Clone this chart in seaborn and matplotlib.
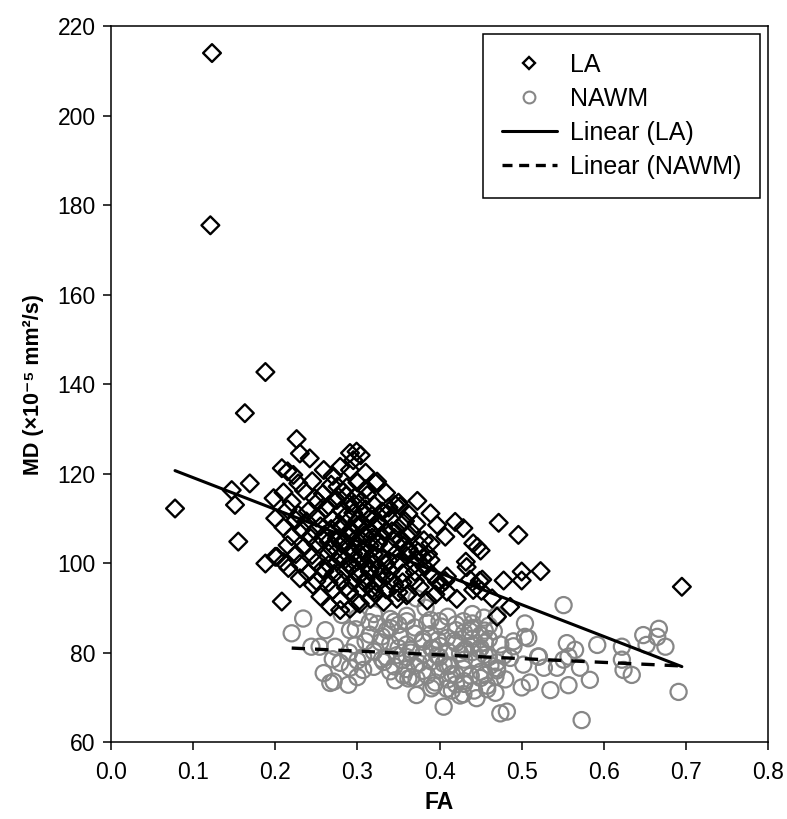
import numpy as np
import seaborn as sns
import matplotlib.pyplot as plt
from matplotlib.lines import Line2D

# LA (lesion area) points, FA vs MD
la_fa = [0.123, 0.121, 0.188, 0.163, 0.226, 0.695, 0.078,
         0.230, 0.242, 0.291, 0.299, 0.304, 0.295,
         0.208, 0.222, 0.215, 0.259, 0.279, 0.291, 0.310, 0.270,
         0.169, 0.228, 0.245, 0.268, 0.300, 0.322, 0.324, 0.287, 0.310,
         0.147, 0.210, 0.235, 0.258, 0.283, 0.312, 0.335, 0.298, 0.248,
         0.198, 0.220, 0.252, 0.275, 0.290, 0.305, 0.320, 0.350, 0.373, 0.265, 0.338,
         0.151, 0.215, 0.240, 0.262, 0.280, 0.295, 0.310, 0.330, 0.352, 0.362, 0.228, 0.318,
         0.200, 0.225, 0.250, 0.270, 0.285, 0.300, 0.315, 0.325, 0.340, 0.358, 0.389, 0.278, 0.305,
         0.210, 0.232, 0.255, 0.268, 0.280, 0.292, 0.300, 0.312, 0.322, 0.335, 0.350, 0.372, 0.397, 0.419, 0.429, 0.472,
         0.220, 0.242, 0.260, 0.275, 0.288, 0.298, 0.308, 0.318, 0.330, 0.345, 0.360, 0.381, 0.407, 0.496, 0.265, 0.325,
         0.155, 0.215, 0.235, 0.250, 0.270, 0.280, 0.290, 0.300, 0.315, 0.325, 0.340, 0.355, 0.374, 0.389, 0.441, 0.446, 0.308, 0.362,
         0.200, 0.225, 0.245, 0.265, 0.280, 0.295, 0.305, 0.320, 0.330, 0.345, 0.360, 0.380, 0.450, 0.285, 0.338,
         0.188, 0.210, 0.230, 0.250, 0.265, 0.275, 0.290, 0.300, 0.310, 0.320, 0.335, 0.350, 0.370, 0.389, 0.432, 0.258, 0.315,
         0.202, 0.216, 0.240, 0.260, 0.272, 0.285, 0.300, 0.315, 0.330, 0.340, 0.355, 0.370, 0.390, 0.409, 0.433, 0.478, 0.500, 0.523,
         0.230, 0.250, 0.265, 0.280, 0.295, 0.310, 0.325, 0.340, 0.355, 0.370, 0.397, 0.407, 0.437, 0.449, 0.452, 0.500, 0.286, 0.318,
         0.246, 0.270, 0.290, 0.305, 0.320, 0.335, 0.350, 0.376, 0.409, 0.441, 0.445, 0.451, 0.362, 0.395,
         0.208, 0.255, 0.280, 0.316, 0.332, 0.348, 0.360, 0.421, 0.464, 0.300, 0.385,
         0.267, 0.279, 0.291, 0.303, 0.486, 0.470,
         # denser core
         0.285, 0.295, 0.305, 0.315, 0.325, 0.335, 0.345, 0.292, 0.302, 0.312, 0.322, 0.278,
         0.268, 0.258, 0.248, 0.238, 0.342, 0.352, 0.362, 0.372, 0.382, 0.392, 0.402, 0.356,
         0.366, 0.376, 0.386, 0.306, 0.296, 0.286, 0.276, 0.326, 0.336, 0.346, 0.316]
la_md = [214.0, 175.5, 142.7, 133.5, 127.7, 94.7, 112.2,
         124.5, 123.4, 124.6, 124.9, 124.1, 123.0,
         121.2, 119.7, 120.5, 120.8, 121.5, 120.8, 120.2, 119.5,
         117.8, 117.8, 118.3, 117.5, 118.0, 117.9, 118.2, 116.9, 116.5,
         116.3, 115.8, 116.2, 115.5, 115.9, 115.2, 115.7, 114.8, 114.5,
         114.5, 113.6, 113.8, 114.1, 113.2, 113.9, 113.0, 113.5, 113.9, 112.8, 112.4,
         113.0, 112.0, 111.6, 112.2, 111.8, 111.2, 112.0, 111.5, 112.7, 111.0, 110.8, 110.6,
         110.0, 109.6, 110.2, 109.8, 110.4, 109.5, 110.0, 109.2, 109.9, 109.4, 111.1, 108.8, 108.6,
         108.0, 107.5, 108.2, 107.6, 108.1, 107.4, 108.3, 107.8, 108.0, 107.2, 107.9, 108.7, 108.5, 109.2, 107.8, 109.0,
         106.0, 105.8, 106.3, 105.5, 106.1, 105.4, 106.2, 105.7, 106.0, 105.6, 106.1, 105.1, 105.9, 106.3, 104.8, 104.6,
         104.8, 104.0, 103.6, 104.2, 103.8, 104.4, 103.5, 104.1, 103.9, 104.3, 103.6, 104.0, 102.5, 104.4, 104.4, 103.6, 102.8, 102.6,
         101.4, 102.0, 101.8, 102.2, 101.6, 102.1, 101.5, 102.0, 101.3, 101.9, 101.6, 101.2, 102.8, 100.8, 100.6,
         99.9, 100.2, 99.8, 100.1, 99.6, 100.3, 99.9, 100.4, 99.5, 100.0, 99.7, 100.2, 99.8, 100.7, 100.3, 98.8, 98.6,
         101.4, 98.9, 97.8, 98.2, 97.6, 98.3, 97.9, 98.1, 97.5, 98.2, 97.7, 98.0, 97.4, 97.0, 99.1, 96.1, 98.1, 98.2,
         96.6, 96.0, 95.6, 96.2, 95.8, 96.3, 95.5, 96.1, 95.7, 96.0, 95.8, 96.0, 96.3, 96.0, 96.3, 96.1, 94.5, 94.3,
         95.1, 94.0, 93.6, 94.2, 93.8, 94.1, 93.5, 94.6, 93.6, 94.0, 94.8, 93.8, 93.2, 93.0,
         91.4, 92.5, 91.8, 92.0, 91.3, 92.0, 92.8, 92.0, 92.1, 91.2, 91.6,
         90.3, 89.5, 89.8, 90.9, 90.2, 88.0,
         104.8, 106.8, 102.9, 100.9, 98.9, 97.0, 95.1, 99.1, 97.1, 95.0, 93.1, 101.3,
         103.3, 105.3, 107.2, 109.3, 107.1, 105.2, 103.2, 101.1, 99.1, 97.2, 95.2, 109.0,
         107.0, 104.0, 102.0, 111.2, 113.2, 115.1, 117.1, 109.0, 111.0, 113.0, 107.0]

# NAWM (normal-appearing white matter) points
nawm_fa = [0.372, 0.551, 0.383,
           0.234, 0.281, 0.300, 0.320, 0.340, 0.360, 0.389, 0.410, 0.429, 0.454, 0.470, 0.345, 0.440,
           0.315, 0.324, 0.336, 0.350, 0.370, 0.402, 0.420, 0.440, 0.460, 0.504, 0.298, 0.385, 0.455,
           0.220, 0.261, 0.291, 0.315, 0.330, 0.352, 0.370, 0.389, 0.409, 0.430, 0.437, 0.450, 0.466,
           0.648, 0.667, 0.665, 0.504, 0.508, 0.398, 0.418,
           0.244, 0.254, 0.273, 0.297, 0.328, 0.340, 0.360, 0.380, 0.400, 0.420, 0.440, 0.455, 0.474,
           0.490, 0.555, 0.592, 0.622, 0.652, 0.675, 0.365, 0.432,
           0.307, 0.320, 0.348, 0.365, 0.380, 0.397, 0.410, 0.425, 0.440, 0.455, 0.478, 0.520, 0.565, 0.335, 0.392, 0.448,
           0.279, 0.300, 0.332, 0.355, 0.375, 0.390, 0.413, 0.430, 0.445, 0.462, 0.486, 0.521, 0.551, 0.557, 0.622, 0.345, 0.405, 0.470,
           0.291, 0.307, 0.320, 0.340, 0.360, 0.380, 0.400, 0.429, 0.450, 0.470, 0.502, 0.527, 0.543, 0.571, 0.624, 0.634, 0.415, 0.438,
           0.259, 0.346, 0.356, 0.362, 0.366, 0.372, 0.385, 0.410, 0.430, 0.450, 0.583, 0.395, 0.468,
           0.267, 0.271, 0.289, 0.393, 0.409, 0.442, 0.458, 0.500, 0.510, 0.535, 0.557, 0.420,
           0.372, 0.425, 0.429, 0.458, 0.468, 0.691, 0.445,
           0.405, 0.474, 0.482, 0.573,
           # denser core
           0.380, 0.390, 0.400, 0.410, 0.420, 0.430, 0.440, 0.450, 0.460, 0.350, 0.360, 0.370,
           0.330, 0.310, 0.290, 0.270, 0.300, 0.340, 0.360, 0.400, 0.420, 0.440, 0.460, 0.470,
           0.480, 0.490, 0.390, 0.430, 0.415, 0.455]
nawm_md = [92.1, 90.6, 90.0,
           87.6, 88.4, 87.8, 88.6, 87.5, 88.2, 87.3, 88.0, 87.0, 87.8, 88.3, 86.9, 88.6,
           86.8, 86.4, 85.0, 86.2, 85.6, 85.8, 86.3, 85.5, 86.0, 86.5, 85.2, 86.6, 84.9,
           84.3, 85.0, 85.0, 84.0, 83.6, 83.5, 84.2, 84.1, 83.3, 84.5, 84.8, 83.9, 84.8,
           83.9, 85.3, 83.5, 83.5, 83.2, 82.8, 82.6,
           81.3, 81.3, 81.3, 81.6, 82.3, 82.0, 81.8, 82.4, 81.5, 82.1, 81.7, 82.2, 81.8,
           81.4, 82.1, 81.7, 81.3, 81.7, 81.3, 80.6, 80.8,
           79.0, 80.2, 79.4, 80.0, 79.6, 79.3, 80.3, 79.8, 80.1, 79.5, 79.3, 79.1, 80.6, 79.0, 80.8, 80.7,
           77.7, 78.2, 77.9, 78.3, 77.6, 78.0, 77.1, 78.4, 78.6, 77.1, 78.8, 79.1, 78.4, 79.1, 78.4, 76.9, 77.5, 77.8,
           76.6, 76.1, 76.8, 75.8, 76.3, 75.9, 76.2, 76.4, 75.7, 76.0, 77.3, 76.6, 76.6, 76.6, 76.1, 75.0, 75.2, 74.8,
           75.4, 73.8, 74.9, 74.2, 74.5, 74.2, 74.9, 74.0, 73.6, 74.3, 73.9, 73.3, 74.6,
           73.2, 73.5, 72.8, 72.6, 71.9, 71.5, 72.6, 72.2, 73.3, 71.6, 72.7, 72.9,
           70.5, 70.4, 70.7, 71.8, 71.0, 71.2, 69.8,
           67.9, 66.4, 66.8, 64.9,
           83.0, 81.0, 79.0, 77.0, 75.0, 80.5, 83.0, 81.0, 79.0, 81.0, 79.0, 77.0,
           78.5, 82.5, 80.0, 78.5, 74.5, 85.5, 87.0, 87.0, 85.0, 86.5, 83.0, 76.5,
           74.0, 82.5, 72.0, 73.0, 71.5, 75.0]

# linear trend lines (slope, intercept) as shown in the chart
la_slope, la_intercept = -71.0, 126.2
nawm_slope, nawm_intercept = -8.42, 82.85

x_ticks = [0.0, 0.1, 0.2, 0.3, 0.4, 0.5, 0.6, 0.7, 0.8]
y_ticks = [60, 80, 100, 120, 140, 160, 180, 200, 220]

sns.set_style("ticks")
plt.rcParams['font.family'] = ['Liberation Sans', 'DejaVu Sans']
plt.rcParams['text.color'] = 'black'
plt.rcParams['axes.labelcolor'] = 'black'
plt.rcParams['xtick.color'] = 'black'
plt.rcParams['ytick.color'] = 'black'
plt.rcParams['xtick.labelsize'] = 16.5
plt.rcParams['ytick.labelsize'] = 16.5
plt.rcParams['xtick.major.pad'] = 8
plt.rcParams['ytick.major.pad'] = 5
plt.rcParams['xtick.major.size'] = 6
plt.rcParams['ytick.major.size'] = 6
plt.rcParams['xtick.major.width'] = 1.1
plt.rcParams['ytick.major.width'] = 1.1

fig = plt.figure(figsize=(7.87, 8.19), dpi=100)
ax = fig.add_axes([0.141, 0.094, 0.835, 0.874])

grey = "#878787"
sns.scatterplot(x=nawm_fa, y=nawm_md, ax=ax, marker="o", s=135,
                facecolors="none", edgecolors=grey, linewidths=1.6, zorder=2)
sns.scatterplot(x=la_fa, y=la_md, ax=ax, marker="D", s=82,
                facecolors="none", edgecolors="black", linewidths=1.7, zorder=3)

la_x = np.array([min(la_fa), max(la_fa)])
nawm_x = np.array([min(nawm_fa), max(nawm_fa)])
sns.lineplot(x=la_x, y=la_slope * la_x + la_intercept, ax=ax,
             color="black", linewidth=2.2, zorder=4)
sns.lineplot(x=nawm_x, y=nawm_slope * nawm_x + nawm_intercept, ax=ax,
             color="black", linewidth=2.4, linestyle=(0, (4, 3)), zorder=4)

ax.set_xlim(0, 0.8)
ax.set_ylim(60, 220)
ax.set_xticks(x_ticks)
ax.set_yticks(y_ticks)
ax.set_xticklabels([f"{t:.1f}" for t in x_ticks], fontsize=16.5)
ax.set_yticklabels([str(t) for t in y_ticks], fontsize=16.5)
for sp in ax.spines.values():
    sp.set_linewidth(1.1)
    sp.set_color("black")
    sp.set_visible(True)

ax.set_xlabel("FA", fontsize=16.5, fontweight="bold", labelpad=5)
ax.set_ylabel("MD (×10⁻⁵ mm²/s)", fontsize=15.5, fontweight="bold", labelpad=10)

handles = [
    Line2D([], [], linestyle="none", marker="D", markersize=6.5,
           markerfacecolor="none", markeredgecolor="black", markeredgewidth=1.7),
    Line2D([], [], linestyle="none", marker="o", markersize=8.5,
           markerfacecolor="none", markeredgecolor=grey, markeredgewidth=1.5),
    Line2D([], [], color="black", linewidth=2.2),
    Line2D([], [], color="black", linewidth=2.4, linestyle=(0, (3, 2))),
]
labels = ["LA", "NAWM", "Linear (LA)", "Linear (NAWM)"]
leg = ax.legend(handles, labels, loc="upper right", fontsize=18,
                frameon=True, fancybox=False, framealpha=1,
                edgecolor="black", handlelength=2.2, handletextpad=0.52,
                borderaxespad=0.32, borderpad=0.75, labelspacing=0.4)
leg.get_frame().set_linewidth(1.1)

fig.savefig("out.png", dpi=100)
